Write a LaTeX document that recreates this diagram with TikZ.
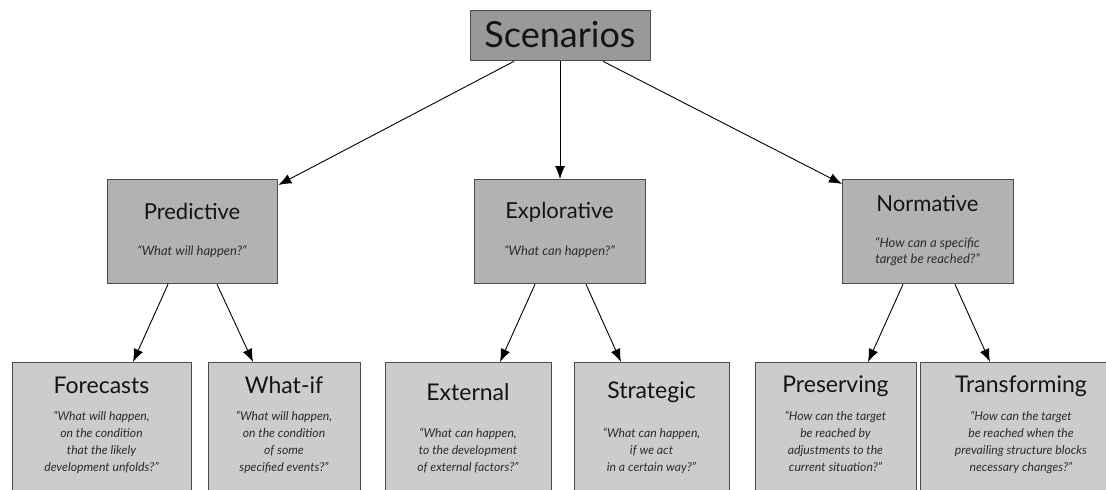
\documentclass[tikz,border=0pt]{standalone}
\usepackage{fontspec}
\setmainfont{Lato}
\usetikzlibrary{arrows.meta,calc}
\definecolor{topfill}{gray}{0.60}
\definecolor{midfill}{gray}{0.70}
\definecolor{lowfill}{gray}{0.80}
\definecolor{edge}{gray}{0.30}
\definecolor{ink}{gray}{0.08}
\tikzset{
  box/.style={draw=edge, line width=1.3pt, anchor=north west, inner sep=0pt},
  topbox/.style={box, fill=topfill},
  midbox/.style={box, fill=midfill, minimum width=170pt, minimum height=104pt},
  lowbox/.style={box, fill=lowfill, minimum height=140pt},
  ttl/.style={text=ink, font=\fontsize{22}{26}\selectfont, inner sep=0pt},
  lttl/.style={text=ink, font=\fontsize{23}{27}\selectfont, inner sep=0pt},
  qst/.style={text=ink!90, font=\fontsize{13}{15.5}\itshape, align=center, inner sep=0pt},
  lqst/.style={text=ink!90, font=\fontsize{12.2}{17}\itshape, align=center, inner sep=0pt, anchor=north},
  arr/.style={draw=black, line width=0.9pt, -{Latex[length=13pt,width=10pt]}}
}
\begin{document}
\begin{tikzpicture}[x=1pt,y=1pt]
\useasboundingbox (0,0) rectangle (1106,-490);
\clip (0,0) rectangle (1106,-490);
% top
\node[topbox, minimum width=180pt, minimum height=50pt] (scen) at (470,-10) {};
\node[text=ink, font=\fontsize{36}{40}\selectfont, inner sep=0pt] (scenT) at (560,-35) {Scenarios};
% middle
\node[midbox] (pred) at (107,-179) {};
\node[ttl] (predT) at (192,-211) {Predictive};
\node[qst] (predQ) at (192,-252) {``What will happen?''};
\node[midbox, minimum width=171pt] (expl) at (474,-179) {};
\node[ttl] (explT) at (559.5,-212) {Explorative};
\node[qst] (explQ) at (559.5,-252) {``What can happen?''};
\node[midbox, minimum width=171pt] (norm) at (842,-179) {};
\node[ttl] (normT) at (927.5,-204) {Normative};
\node[qst] (normQ) at (927.5,-251.5) {``How can a specific\\target be reached?''};
% bottom
\node[lowbox, minimum width=179pt] (fore) at (12,-362) {};
\node[lttl] (foreT) at (101.5,-385) {Forecasts};
\node[lqst] (foreQ) at (101.5,-411) {``What will happen,\\on the condition\\that the likely\\development unfolds?''};
\node[lowbox, minimum width=152pt] (what) at (208,-362) {};
\node[lttl] (whatT) at (284,-385) {What-if};
\node[lqst] (whatQ) at (284,-411) {``What will happen,\\on the condition\\of some\\specified events?''};
\node[lowbox, minimum width=166pt] (ext) at (385,-362) {};
\node[lttl] (extT) at (468,-392) {External};
\node[lqst] (extQ) at (468,-428) {``What can happen,\\to the development\\of external factors?''};
\node[lowbox, minimum width=155pt] (strat) at (574,-362) {};
\node[lttl] (stratT) at (651.5,-392) {Strategic};
\node[lqst] (stratQ) at (651.5,-428) {``What can happen,\\if we act\\in a certain way?''};
\node[lowbox, minimum width=161pt] (pres) at (755,-362) {};
\node[lttl] (presT) at (835.5,-386) {Preserving};
\node[lqst] (presQ) at (835.5,-411) {``How can the target\\be reached by\\adjustments to the\\current situation?''};
\node[lowbox, minimum width=202pt] (trans) at (920,-362) {};
\node[lttl] (transT) at (1021,-386) {Transforming};
\node[lqst] (transQ) at (1021,-411) {``How can the target\\be reached when the\\prevailing structure blocks\\necessary changes?''};
% arrows
\draw[arr] ($(scen.south west)+(44,0)$) -- ($(pred.north east)+(0,-6)$);
\draw[arr] ($(scen.south west)+(90,0)$) -- ($(expl.north west)+(86,0)$);
\draw[arr] ($(scen.south west)+(133,0)$) -- ($(norm.north west)+(0,-5)$);
\draw[arr] ($(pred.south west)+(61,0)$) -- ($(fore.north west)+(121,0)$);
\draw[arr] ($(pred.south west)+(110,0)$) -- ($(what.north west)+(45,0)$);
\draw[arr] ($(expl.south west)+(61,0)$) -- ($(ext.north west)+(115,0)$);
\draw[arr] ($(expl.south west)+(112,0)$) -- ($(strat.north west)+(47,0)$);
\draw[arr] ($(norm.south west)+(61,0)$) -- ($(pres.north west)+(113,0)$);
\draw[arr] ($(norm.south west)+(113,0)$) -- ($(trans.north west)+(70,0)$);
\end{tikzpicture}
\end{document}
